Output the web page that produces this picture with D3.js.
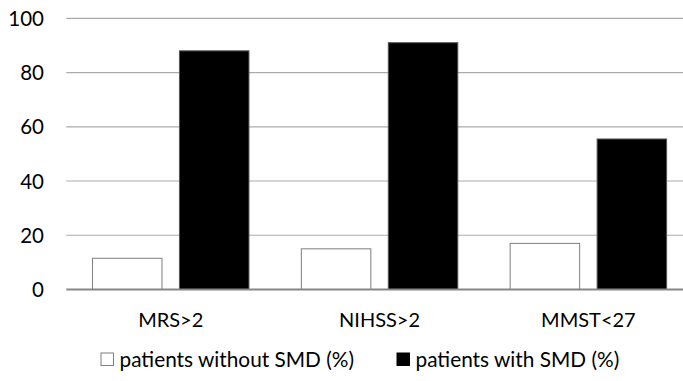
<!DOCTYPE html>
<html>
<head>
<meta charset="utf-8">
<script src="https://cdn.jsdelivr.net/npm/d3@7/dist/d3.min.js"></script>
<style>
  html, body { margin: 0; padding: 0; background: #fff; }
  svg { display: block; }
  text { font-family: Lato, "Open Sans", sans-serif; fill: #000; }
</style>
</head>
<body>
<svg id="chart" width="683" height="381"></svg>
<script>
const categories = ["MRS>2", "NIHSS>2", "MMST<27"];
const seriesNames = ["patients without SMD (%)", "patients with SMD (%)"];
const withoutSMD = [11.5, 15.0, 17.0];
const withSMD = [88.0, 91.0, 55.5];
const yTicks = [0, 20, 40, 60, 80, 100];

(function () {
const svg = d3.select("#chart");
const plotLeft = 66.3, plotRight = 692.8, plotTop = 18.3, plotBottom = 289.5;

const x0 = d3.scaleBand().domain(categories).range([plotLeft, plotRight]).padding(0);
const x1 = d3.scaleBand().domain(seriesNames).range([0, x0.bandwidth()])
  .paddingInner(0.201).paddingOuter(0.301);
const y = d3.scaleLinear().domain([0, 100]).range([plotBottom, plotTop]);

// gridlines
svg.append("g").selectAll("line").data(yTicks.filter(d => d > 0)).join("line")
  .attr("x1", plotLeft).attr("x2", plotRight)
  .attr("y1", d => y(d)).attr("y2", d => y(d))
  .attr("stroke", "#ababab").attr("stroke-width", 1.2);

// y axis labels
const yAxis = d3.axisLeft(y).tickValues(yTicks).tickSize(0).tickPadding(0).tickFormat(d3.format("d"));
const yg = svg.append("g").attr("transform", "translate(44,0)").call(yAxis);
yg.select(".domain").remove();
yg.selectAll("text").attr("font-size", 20.5).attr("font-family", "Lato, sans-serif").attr("fill", "#000").attr("dy", "0.35em");

// bars
const rows = categories.map((c, i) => ({ cat: c, vals: [withoutSMD[i], withSMD[i]] }));
const fills = ["#ffffff", "#000000"];
const strokes = ["#7f7f7f", "#555555"];
const g = svg.append("g");
rows.forEach(r => {
  r.vals.forEach((v, j) => {
    g.append("rect")
      .attr("x", x0(r.cat) + x1(seriesNames[j]))
      .attr("y", y(v))
      .attr("width", x1.bandwidth())
      .attr("height", y(0) - y(v))
      .attr("fill", fills[j])
      .attr("stroke", strokes[j])
      .attr("stroke-width", 1);
  });
});

// baseline / x axis
const xAxis = d3.axisBottom(x0).tickSize(0).tickPadding(0);
const xg = svg.append("g").attr("transform", `translate(0,${plotBottom})`).call(xAxis);
xg.select(".domain").remove();
svg.append("line").attr("x1", plotLeft).attr("x2", plotRight).attr("y1", plotBottom).attr("y2", plotBottom)
  .attr("stroke", "#868686").attr("stroke-width", 1.8);
xg.selectAll("text").attr("font-size", 20).attr("font-family", "Lato, sans-serif").attr("fill", "#000")
  .attr("y", 0).attr("dy", 0).attr("transform", "translate(0,37.2)");

// legend
const legendX = [101, 397];
const leg = svg.append("g");
seriesNames.forEach((s, j) => {
  leg.append("rect").attr("x", legendX[j]).attr("y", 353).attr("width", 12.5).attr("height", 12.5)
    .attr("fill", fills[j]).attr("stroke", j === 0 ? "#7f7f7f" : "#000").attr("stroke-width", 1);
  leg.append("text").attr("x", legendX[j] + 18.5).attr("y", 366.8)
    .attr("font-size", 20.8).text(s);
});
})();
</script>
</body>
</html>
